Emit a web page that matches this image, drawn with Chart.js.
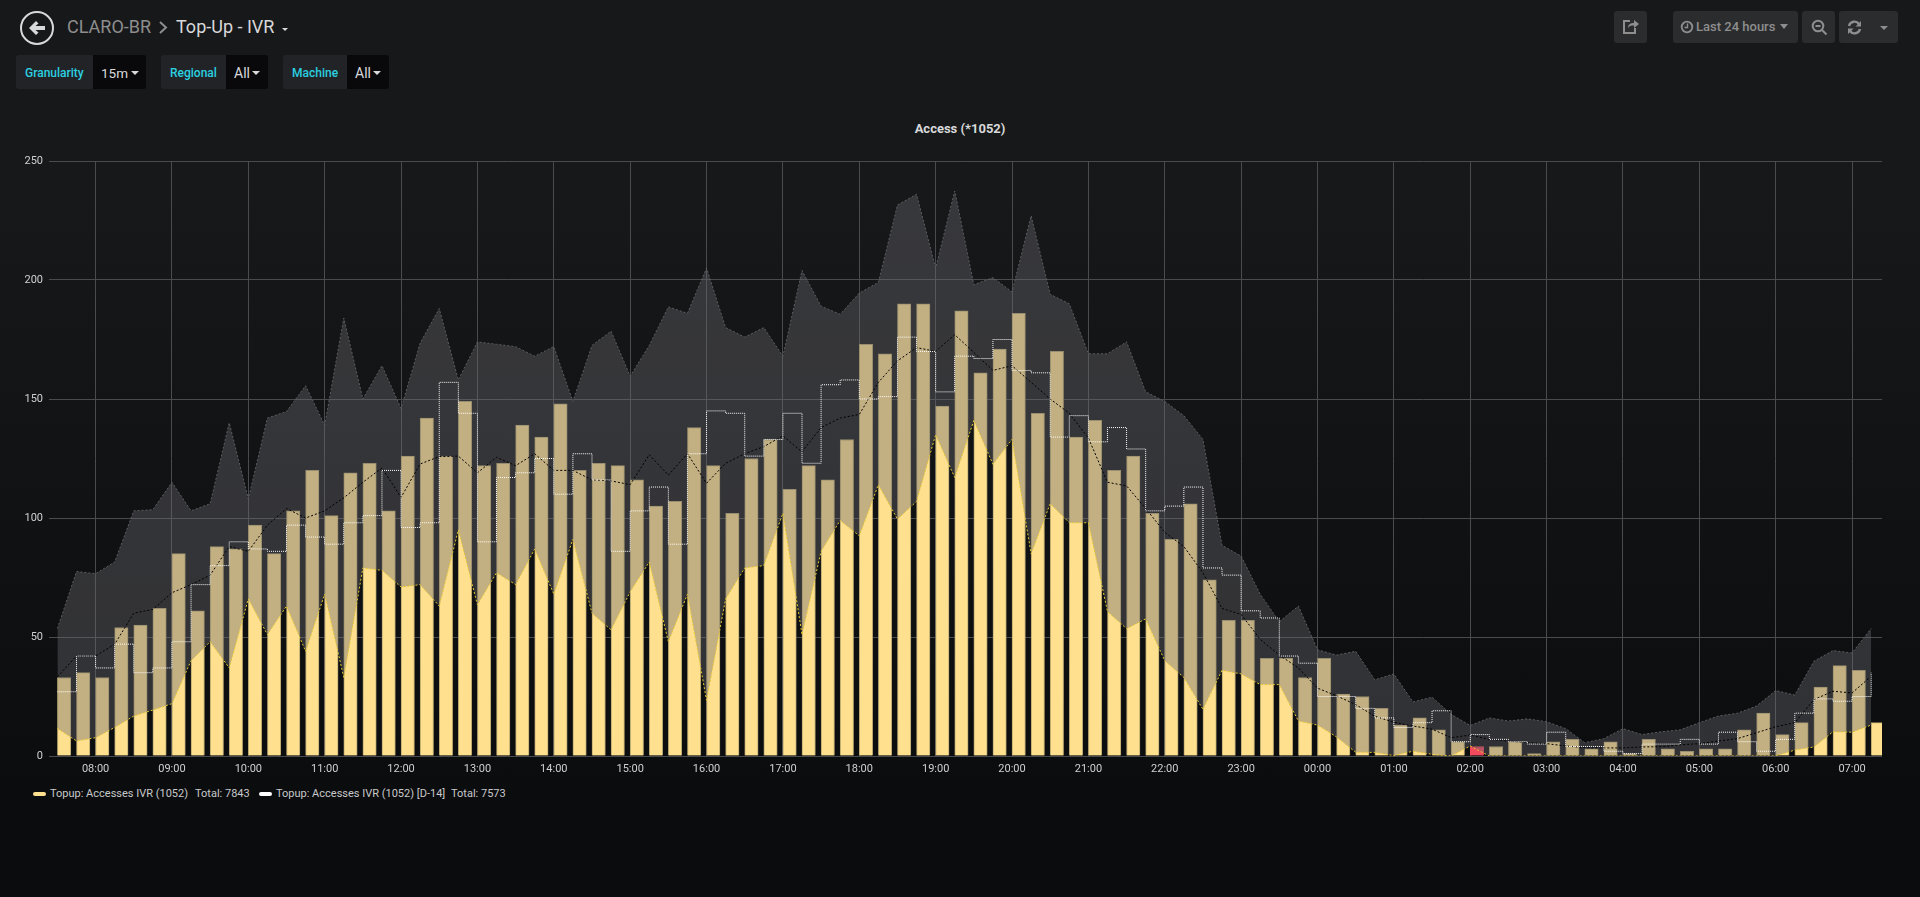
<!DOCTYPE html>
<html>
<head>
<meta charset="utf-8">
<title>Top-Up - IVR</title>
<script src="https://cdn.jsdelivr.net/npm/chart.js@4/dist/chart.umd.min.js"></script>
<style>
  html, body { margin: 0; padding: 0; }
  body {
    width: 1920px; height: 897px; overflow: hidden; position: relative;
    background: linear-gradient(#17181a 22%, #0b0c0e 90%);
    font-family: Roboto, sans-serif; color: #d8d9da;
  }
  .abs { position: absolute; white-space: nowrap; }
  .crumb { top: 16px; font-size: 18px; line-height: 22px; }
  .var-label { top: 55px; height: 34px; background: #212327; border-radius: 3px 0 0 3px; color: #2bd0e0; font-size: 12px; font-weight: 500; line-height: 36px; box-sizing: border-box; padding-left: 9px; }
  .var-value { top: 55px; height: 34px; background: #09090b; border-radius: 0 3px 3px 0; color: #d8d9da; font-size: 14px; line-height: 37px; box-sizing: border-box; padding-left: 8px; }
  .caret { width: 0; height: 0; border-left: 4px solid transparent; border-right: 4px solid transparent; border-top: 4px solid #d8d9da; }
  .btn { top: 11px; height: 32px; background: #2b2c2e; border-radius: 3px; }
  .panel-title { left: 760px; width: 400px; top: 121px; text-align: center; font-size: 13px; font-weight: 700; line-height: 16px; color: #d8d9da; }
  .legend { top: 787px; font-size: 11px; line-height: 14px; color: #c8c9ca; }
  .swatch { top: 792px; width: 13px; height: 4px; border-radius: 2px; }
  #chart { position: absolute; left: 0; top: 140px; }
</style>
</head>
<body>
<!-- header -->
<svg class="abs" style="left:19px;top:10px" width="36" height="36" viewBox="0 0 36 36">
  <circle cx="18" cy="18" r="16" fill="none" stroke="#d8d9da" stroke-width="2"/>
  <path d="M10 18 L17 11 L19.5 13.5 L16.5 16 H26 V20 H16.5 L19.5 22.5 L17 25 Z" fill="#d8d9da"/>
</svg>
<div class="abs crumb" style="left:67px;color:#8e8e8e">CLARO-BR</div>
<svg class="abs" style="left:158px;top:21px" width="10" height="13" viewBox="0 0 10 13"><path d="M2 1 L8 6.5 L2 12" fill="none" stroke="#8e8e8e" stroke-width="2"/></svg>
<div class="abs crumb" style="left:176px">Top-Up - IVR</div>
<div class="abs caret" style="left:282px;top:28px;border-left-width:3px;border-right-width:3px;border-top-width:3px"></div>

<div class="abs var-label" style="left:16px;width:77px">Granularity</div>
<div class="abs var-value" style="left:93px;width:53px;font-size:13.5px">15m</div>
<div class="abs caret" style="left:131px;top:71px"></div>
<div class="abs var-label" style="left:161px;width:65px">Regional</div>
<div class="abs var-value" style="left:226px;width:42px">All</div>
<div class="abs caret" style="left:252px;top:71px"></div>
<div class="abs var-label" style="left:283px;width:64px">Machine</div>
<div class="abs var-value" style="left:347px;width:42px">All</div>
<div class="abs caret" style="left:373px;top:71px"></div>

<div class="abs btn" style="left:1614px;width:33px"></div>
<svg class="abs" style="left:1622px;top:18px" width="18" height="17" viewBox="0 0 18 17">
  <path d="M8 3 H2 V15 H13 V10" fill="none" stroke="#8e8e8e" stroke-width="2"/><path d="M6 10 C6 6 9 5 12 5 V2 L17 6 L12 10 V7.5 C9 7.5 7 8 6 10Z" fill="#8e8e8e"/>
</svg>
<div class="abs btn" style="left:1673px;width:125px"></div>
<svg class="abs" style="left:1680px;top:20px" width="14" height="14" viewBox="0 0 14 14">
  <circle cx="7" cy="7" r="5.3" fill="none" stroke="#8e8e8e" stroke-width="1.8"/><path d="M7.5 3.5 V7.5 H4.5" fill="none" stroke="#8e8e8e" stroke-width="1.4"/>
</svg>
<div class="abs" style="left:1696px;top:19px;font-size:13px;font-weight:500;line-height:16px;color:#8e8e8e">Last 24 hours</div>
<div class="abs caret" style="left:1780px;top:24px;border-top-color:#8e8e8e;border-left-width:4.5px;border-right-width:4.5px;border-top-width:5px"></div>
<div class="abs btn" style="left:1802px;width:33px"></div>
<svg class="abs" style="left:1811px;top:19px" width="17" height="17" viewBox="0 0 17 17">
  <circle cx="7" cy="7" r="5.3" fill="none" stroke="#8e8e8e" stroke-width="2"/><path d="M4.5 7 H9.5 M11 11 L15.5 15.5" stroke="#8e8e8e" stroke-width="2"/>
</svg>
<div class="abs btn" style="left:1839px;width:59px"></div>
<svg class="abs" style="left:1847px;top:20px" width="15" height="15" viewBox="0 0 15 15">
  <path d="M2 6 A5.6 5.6 0 0 1 12 4 M13 9 A5.6 5.6 0 0 1 3 11" fill="none" stroke="#8e8e8e" stroke-width="2.4"/><path d="M14 1 V6.5 H8.5Z M1 14 V8.5 H6.5Z" fill="#8e8e8e"/>
</svg>
<div class="abs caret" style="left:1880px;top:26px;border-top-color:#8e8e8e"></div>

<div class="abs panel-title">Access (*1052)</div>
<canvas id="chart" width="1920" height="646"></canvas>

<!-- legend -->
<div class="abs swatch" style="left:33px;background:#ffe08f"></div>
<div class="abs legend" style="left:50px">Topup: Accesses IVR (1052)</div>
<div class="abs legend" style="left:195px">Total: 7843</div>
<div class="abs swatch" style="left:259px;background:#ffffff"></div>
<div class="abs legend" style="left:276px">Topup: Accesses IVR (1052) [D-14]</div>
<div class="abs legend" style="left:451px">Total: 7573</div>

<script>
// ------------ DATA ---------------
const slots = [
  "07:30","07:45","08:00","08:15","08:30","08:45","09:00","09:15",
  "09:30","09:45","10:00","10:15","10:30","10:45","11:00","11:15",
  "11:30","11:45","12:00","12:15","12:30","12:45","13:00","13:15",
  "13:30","13:45","14:00","14:15","14:30","14:45","15:00","15:15",
  "15:30","15:45","16:00","16:15","16:30","16:45","17:00","17:15",
  "17:30","17:45","18:00","18:15","18:30","18:45","19:00","19:15",
  "19:30","19:45","20:00","20:15","20:30","20:45","21:00","21:15",
  "21:30","21:45","22:00","22:15","22:30","22:45","23:00","23:15",
  "23:30","23:45","00:00","00:15","00:30","00:45","01:00","01:15",
  "01:30","01:45","02:00","02:15","02:30","02:45","03:00","03:15",
  "03:30","03:45","04:00","04:15","04:30","04:45","05:00","05:15",
  "05:30","05:45","06:00","06:15","06:30","06:45","07:00","07:15"
];

const accesses = [
  33,35,33,54,55,62,85,61,
  88,87,97,85,103,120,101,119,
  123,103,126,142,126,149,122,123,
  139,134,148,120,123,122,116,105,
  107,138,122,102,125,133,112,122,
  116,133,173,169,190,190,147,187,
  161,171,186,144,170,134,141,120,
  126,102,91,106,74,57,57,41,
  41,33,41,26,25,20,13,16,
  11,6,4,4,6,1,6,7,
  3,6,1,7,3,2,3,3,
  11,18,9,14,29,38,36,14
];

const accessesD14 = [
  27,42,37,47,35,37,48,72,
  80,90,87,86,97,92,89,98,
  101,120,96,98,157,144,90,117,
  119,125,110,127,116,86,103,113,
  89,127,145,144,126,133,144,123,
  156,158,150,151,176,170,153,168,
  167,175,162,161,134,143,132,138,
  129,103,105,113,79,76,61,58,
  42,39,25,25,20,16,12,14,
  19,6,9,7,6,5,10,4,
  4,2,1,5,5,7,5,10,
  6,2,7,18,24,23,25,35
];

const bandMax = [
  53.6,77.5,76.6,81.5,103,103.5,115,103,
  106,140,108,142,144.7,155.6,139,184,
  150,164,146,173.5,188,158,174,173,
  172,168,172,149,172.5,178.5,159.6,172.5,
  188.7,186,205,180,176,180,168,204,
  189,185.6,194.5,199,231.5,236,205,237.4,
  198,201,195,227,194,190,169,169,
  174,153,149,143,133,88.5,84,68,
  56.4,63,44.6,42.4,44,32,34.5,22.7,
  24.7,17.5,12.8,16,14.7,15.6,14.4,11.5,
  5.6,7.3,11.5,9,10.2,11,14,16.8,
  18,21,27.5,25.6,39.8,44.3,43.3,53.6
];

const bandAvg = [
  33.3,42,42,47,60,61.6,68.6,72,
  76,88,86,97,104,100,103,108.5,
  115,121,108.7,122.7,125.8,126,119,125.5,
  122,127,120,120,116,115.6,114,126.6,
  118,127,114.6,123,127,130,134.5,127.8,
  138,142,143.5,157,166,171.6,170,177,
  169.6,162,164,157,150,144,133.6,115,
  113.5,104,94,88,77,62,59.5,49,
  42.4,37,28.5,25.3,21.6,16.7,14.2,12.6,
  11.3,7.7,8.8,7,6.3,5.6,5.2,4.2,
  3.5,3.4,3.4,3.8,3.9,4.7,5.2,6.3,
  7.3,9.8,12.3,14,23.7,27.2,26.5,33.5
];

const bandMin = [
  11.6,6.3,7.7,12,16.8,19.3,22,40,
  48,37,66,51,63,44,68,33,
  79,78,71,72,63,95,63.5,77,
  72,87,68,91,60,53,69,81.5,
  48,68,23.4,66,79,80,102,51,
  86,99,92.5,114,99.5,107,135,117,
  141,122.6,133,85,106,98,98,60.7,
  53.5,57.6,40,33,19.6,36,34.5,30,
  30,14.7,13,8,1.6,1.5,0.2,2,
  0.7,0,4.2,0,0,0,0,0,
  0,0,0,0,0,0,0,0,
  0,0,0,2.5,3.8,10.2,10,13
];

const alertSlot = "02:00";
const yTicks = [0, 50, 100, 150, 200, 250];

// ------------ HELPERS ---------------
// minutes since midnight of the first day, so the axis keeps going after 00:00
const minutes = slots.map((s, i) => {
  const m = Number(s.slice(0, 2)) * 60 + Number(s.slice(3));
  return i >= slots.indexOf("00:00") ? m + 1440 : m;
});

const points = values => values.map((v, i) => ({ x: minutes[i], y: v }));

// bars start on their time instead of being centred on it
const barShift = 5.26;
const barPoints = accesses.map((v, i) => ({ x: minutes[i] + barShift, y: v }));

// one tick per full hour of the slots
const hourTicks = minutes.filter((m, i) => slots[i].endsWith(":00"));
const hourLabel = v => String(Math.floor(v / 60) % 24).padStart(2, "0") + ":00";

// ------------ CHART ---------------
new Chart(document.getElementById("chart"), {
  data: {
    datasets: [
      {
        type: "bar",
        label: "Topup: Accesses IVR (1052)",
        data: barPoints,
        backgroundColor: ctx => slots[ctx.dataIndex] === alertSlot ? "#f2495c" : "#ffe08f",
        borderColor: ctx => slots[ctx.dataIndex] === alertSlot ? "#f2495c" : "#b8a66e",
        borderWidth: 1,
        barThickness: 13.4,
        order: 5
      },
      {
        type: "line",
        label: "max",
        data: points(bandMax),
        borderColor: "#5c5d60",
        borderWidth: 1,
        borderDash: [2, 2],
        backgroundColor: "rgba(106,106,110,0.4)",
        fill: 2,
        pointRadius: 0,
        tension: 0,
        order: 4
      },
      {
        type: "line",
        label: "min",
        data: points(bandMin),
        borderColor: "#e8c92e",
        borderWidth: 1,
        borderDash: [2, 2],
        fill: false,
        pointRadius: 0,
        tension: 0,
        order: 3
      },
      {
        type: "line",
        label: "avg",
        data: points(bandAvg),
        borderColor: "#000000",
        borderWidth: 1,
        borderDash: [2, 2],
        fill: false,
        pointRadius: 0,
        tension: 0,
        order: 2
      },
      {
        type: "line",
        label: "Topup: Accesses IVR (1052) [D-14]",
        data: points(accessesD14),
        borderColor: "#ffffff",
        borderWidth: 1,
        borderDash: [1, 1],
        fill: false,
        pointRadius: 0,
        stepped: true,
        order: 1
      }
    ]
  },
  options: {
    responsive: false,
    animation: false,
    devicePixelRatio: 1,
    layout: { padding: { left: 0, right: 38, top: 21, bottom: 0 }, autoPadding: false },
    plugins: {
      legend: { display: false },
      tooltip: { enabled: false }
    },
    scales: {
      x: {
        type: "linear",
        offset: false,
        min: 443.4,
        max: 1883.5,
        afterFit: s => { s.height = 30; },
        afterBuildTicks: s => { s.ticks = hourTicks.map(v => ({ value: v })); },
        grid: { color: "#4a4b4e", lineWidth: 1, drawTicks: false, offset: false },
        border: { display: false },
        ticks: {
          autoSkip: false,
          maxRotation: 0,
          padding: 7,
          color: "#d0d0d0",
          font: { family: "Roboto", size: 11 },
          callback: hourLabel
        }
      },
      y: {
        min: yTicks[0],
        max: yTicks[yTicks.length - 1],
        afterFit: s => { s.width = 49; },
        grid: { color: "#4a4b4e", lineWidth: 1, drawTicks: false },
        border: { display: false },
        ticks: {
          stepSize: 50,
          padding: 6,
          color: "#d0d0d0",
          font: { family: "Roboto", size: 11 }
        }
      }
    }
  }
});
</script>
</body>
</html>
